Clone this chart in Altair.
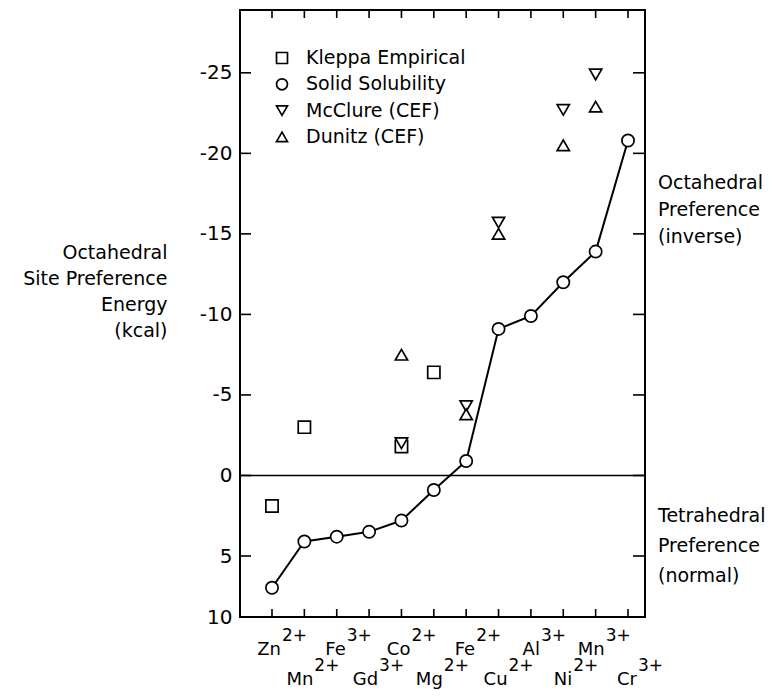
import altair as alt
import pandas as pd

# Cations along the x axis, in order of increasing octahedral preference
ions = ["Zn2+", "Mn2+", "Fe3+", "Gd3+", "Co2+", "Mg2+", "Fe2+", "Cu2+", "Al3+", "Ni2+", "Mn3+", "Cr3+"]
elements = ["Zn", "Mn", "Fe", "Gd", "Co", "Mg", "Fe", "Cu", "Al", "Ni", "Mn", "Cr"]
charges = ["2+", "2+", "3+", "3+", "2+", "2+", "2+", "2+", "3+", "2+", "3+", "3+"]

# Octahedral site preference energies (kcal)
solid_solubility = [7.6, 4.1, 3.8, 3.5, 2.8, 0.9, -0.9, -9.1, -9.9, -12.0, -13.9, -20.8]
kleppa_ions = ["Zn2+", "Mn2+", "Co2+", "Mg2+"]
kleppa_values = [1.9, -3.0, -1.8, -6.4]
mcclure_ions = ["Co2+", "Fe2+", "Cu2+", "Ni2+", "Mn3+"]
mcclure_values = [-2.0, -4.3, -15.7, -22.7, -24.9]
dunitz_ions = ["Co2+", "Fe2+", "Cu2+", "Ni2+", "Mn3+"]
dunitz_values = [-7.5, -3.8, -15.0, -20.5, -22.9]

series_names = ["Kleppa Empirical", "Solid Solubility", "McClure (CEF)", "Dunitz (CEF)"]
series_shapes = ["square", "circle", "triangle-down", "triangle-up"]
y_ticks = [-25, -20, -15, -10, -5, 0, 5, 10]

FONT = "DejaVu Sans"
W, H = 405, 607

points = pd.concat([
    pd.DataFrame({"ion": kleppa_ions, "value": kleppa_values, "series": series_names[0]}),
    pd.DataFrame({"ion": mcclure_ions, "value": mcclure_values, "series": series_names[2]}),
    pd.DataFrame({"ion": dunitz_ions, "value": dunitz_values, "series": series_names[3]}),
    pd.DataFrame({"ion": ions, "value": solid_solubility, "series": series_names[1]}),
], ignore_index=True)
curve = pd.DataFrame({"ion": ions, "value": solid_solubility})
labels = pd.DataFrame({"ion": ions, "element": elements, "charge": charges,
                       "row": [i % 2 for i in range(len(ions))]})
ticks_y = pd.DataFrame({"value": y_ticks})
zero = pd.DataFrame({"value": [0]})
one = pd.DataFrame({"k": [0]})

xscale = alt.Scale(type="point", domain=ions, range=[32, 388], padding=0)
# the printed axis runs 10 at the bottom up to about -29 at the top
yscale = alt.Scale(domain=[10, 5, -28.9], range=[H, H - 61, 0], zero=False, nice=False)
shape_scale = alt.Scale(domain=series_names, range=series_shapes)

y_axis = alt.Axis(
    values=y_ticks, labelExpr="'' + datum.value", domain=False, ticks=False, grid=False,
    labelFontSize=20, labelPadding=8, labelColor="black", labelFont=FONT,
    title=["Octahedral", "Site Preference", "Energy", "(kcal)"],
    titleAngle=0, titleAlign="right", titleBaseline="top", titleX=-73, titleY=233,
    titleLineHeight=26, titleFontSize=19, titleFontWeight="normal", titleFont=FONT,
    titleColor="black",
)


def x_enc():
    return alt.X("ion:N", scale=xscale, axis=None)


def y_enc():
    return alt.Y("value:Q", scale=yscale, axis=y_axis)


# inward tick marks on all four sides
left_ticks = alt.Chart(ticks_y).mark_rule(color="black", strokeWidth=1.6).encode(
    y=y_enc(), x=alt.value(0), x2=alt.value(11))
right_ticks = alt.Chart(ticks_y).mark_rule(color="black", strokeWidth=1.6).encode(
    y=y_enc(), x=alt.value(W - 12), x2=alt.value(W))
bottom_ticks = alt.Chart(labels).mark_rule(color="black", strokeWidth=1.6).encode(
    x=x_enc(), y=alt.value(H - 8), y2=alt.value(H))
top_ticks = alt.Chart(labels).mark_rule(color="black", strokeWidth=1.6).encode(
    x=x_enc(), y=alt.value(0), y2=alt.value(8))

zero_line = alt.Chart(zero).mark_rule(color="black", strokeWidth=1.6).encode(y=y_enc())

line = alt.Chart(curve).mark_line(color="black", strokeWidth=2).encode(x=x_enc(), y=y_enc())

symbols = alt.Chart(points).mark_point(
    fill="white", stroke="black", strokeWidth=1.7, size=150, opacity=1
).encode(
    x=x_enc(),
    y=y_enc(),
    shape=alt.Shape("series:N", scale=shape_scale, legend=None),
)

# key in the upper-left corner of the plot: one symbol + label per series
key_layers = []
for i, name in enumerate(series_names):
    entry = pd.DataFrame({"series": [name]})
    ypix = 48 + i * 26.3
    key_layers.append(
        alt.Chart(entry).mark_point(fill="white", stroke="black", strokeWidth=1.7,
                                    size=120, opacity=1)
        .encode(x=alt.value(42), y=alt.value(ypix),
                shape=alt.Shape("series:N", scale=shape_scale, legend=None)))
    key_layers.append(
        alt.Chart(entry).mark_text(align="left", baseline="middle", fontSize=19,
                                   font=FONT, color="black")
        .encode(x=alt.value(66), y=alt.value(ypix), text="series:N"))

# ion labels: element symbol with raised charge, on two staggered rows
label_layers = []
for r, base in ((0, 640), (1, 670)):
    sub = labels[labels["row"] == r]
    label_layers.append(
        alt.Chart(sub).mark_text(align="right", baseline="middle", dx=9, fontSize=18,
                                 font=FONT, color="black")
        .encode(x=x_enc(), y=alt.value(base), text="element:N"))
    label_layers.append(
        alt.Chart(sub).mark_text(align="left", baseline="middle", dx=10, fontSize=17,
                                 font=FONT, color="black")
        .encode(x=x_enc(), y=alt.value(base - 14), text="charge:N"))

octa_note = alt.Chart(one).mark_text(
    align="left", baseline="top", fontSize=19, font=FONT, color="black", lineHeight=27
).encode(x=alt.value(W + 13), y=alt.value(164),
         text=alt.value(["Octahedral", "Preference", "(inverse)"]))
tetra_note = alt.Chart(one).mark_text(
    align="left", baseline="top", fontSize=19, font=FONT, color="black", lineHeight=30
).encode(x=alt.value(W + 13), y=alt.value(497),
         text=alt.value(["Tetrahedral", "Preference", "(normal)"]))

chart = alt.layer(
    zero_line, left_ticks, right_ticks, bottom_ticks, top_ticks,
    line, symbols, *key_layers, octa_note, tetra_note, *label_layers,
).properties(
    width=W, height=H,
    padding={"left": 240, "top": 10, "right": 135, "bottom": 79},
    autosize="none",
    background="white",
).configure_view(stroke="black", strokeWidth=2)

chart.save("out.html", embed_options={"renderer": "svg", "actions": False})
